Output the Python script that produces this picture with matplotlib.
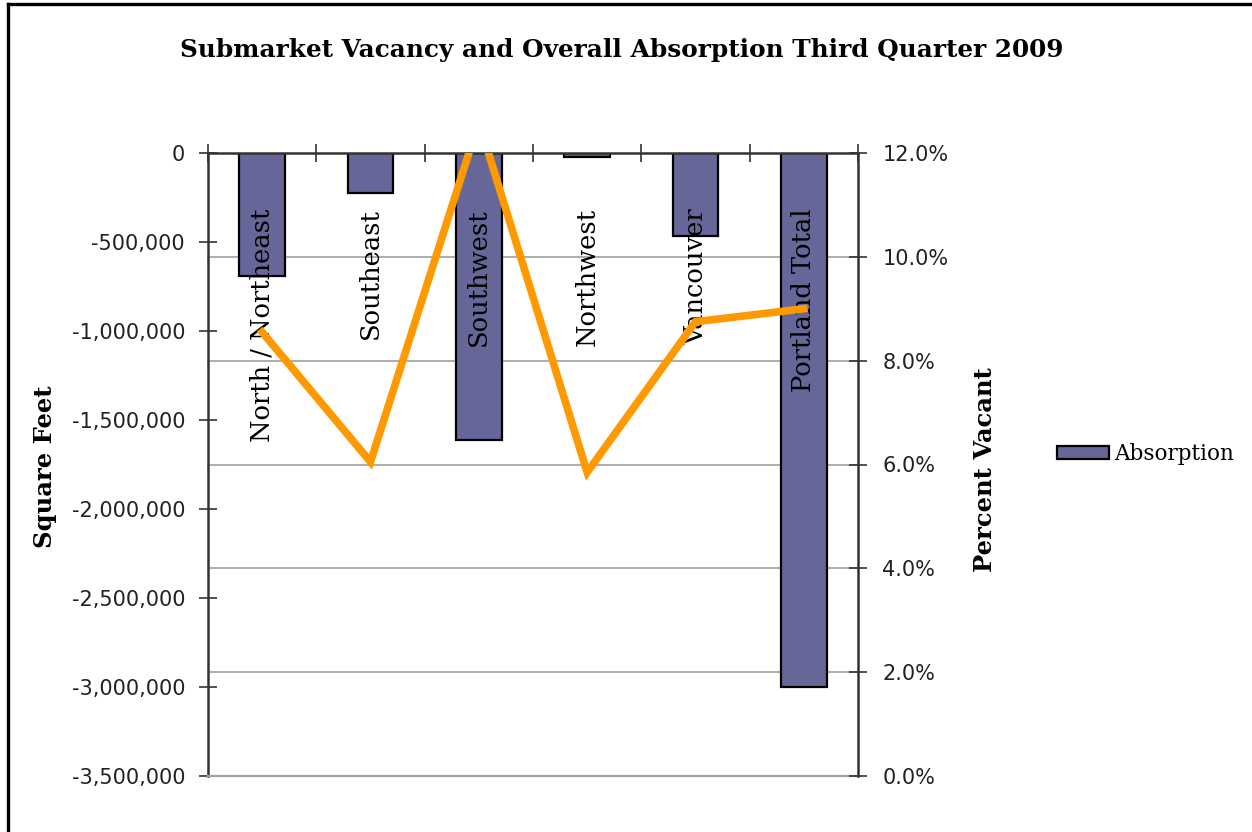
import matplotlib
matplotlib.use("Agg")
import matplotlib.pyplot as plt
from matplotlib.lines import Line2D
from matplotlib.patches import Patch
from matplotlib.ticker import FuncFormatter, FixedLocator

# Submarket data, third quarter 2009
categories = ["North / Northeast", "Southeast", "Southwest",
              "Northwest", "Vancouver", "Portland Total"]
absorption = [-690000, -225000, -1610000, -20000, -465000, -3000000]
vacancy_pct = [8.55, 6.05, 12.6, 5.85, 8.75, 9.0]

sqft_ticks = [0, -500000, -1000000, -1500000, -2000000, -2500000, -3000000, -3500000]
pct_ticks = [0, 2, 4, 6, 8, 10, 12]

W, H = 1252, 832
fig = plt.figure(figsize=(W / 100, H / 100), dpi=100)
fig.patch.set_facecolor("white")

ax = fig.add_axes([208 / W, 1 - 776 / H, (858 - 208) / W, (776 - 153) / H])
ax2 = ax.twinx()

serif = ["DejaVu Serif"]
sans = ["DejaVu Sans"]
dark = "#222222"
bar_color = "#666699"
line_color = "#FF9900"
grid_color = "#a0a0a0"

n = len(categories)
xs = list(range(n))

# horizontal gridlines follow the percent axis, drawn beneath the bars
for p in pct_ticks[:-1]:
    f = (p - pct_ticks[0]) / (pct_ticks[-1] - pct_ticks[0])
    ax.plot([0, 1], [f, f], transform=ax.transAxes, color=grid_color,
            lw=1.2, zorder=0.5, clip_on=False)

ax.bar(xs, absorption, width=0.42, color=bar_color, edgecolor="black",
       linewidth=1.6, zorder=2)

ax.set_xlim(-0.5, n - 0.5)
ax.set_ylim(sqft_ticks[-1], sqft_ticks[0])
ax.yaxis.set_major_locator(FixedLocator(sqft_ticks))
ax.yaxis.set_major_formatter(FuncFormatter(lambda v, _: f"{int(v):,}"))

# category names sit inside the plot, hanging from just under the axis line
for x, name in zip(xs, categories):
    ax.text(x, -310000, name, rotation=90, ha="center", va="top",
            fontsize=18.5, family=serif, color="black", zorder=3)

# category axis along the zero line at the top
ax.xaxis.tick_top()
ax.set_xticks([i - 0.5 for i in range(n + 1)])
ax.set_xticklabels([])
ax.tick_params(axis="x", direction="inout", length=13, width=1.2, color="#333333")
ax.tick_params(axis="y", direction="inout", length=13, width=1.2, color="#333333",
               labelsize=15, labelcolor=dark, pad=10)
for lbl in ax.get_yticklabels():
    lbl.set_family(sans)

for side in ["left", "top"]:
    ax.spines[side].set_color("#333333")
    ax.spines[side].set_linewidth(1.8)
ax.spines["right"].set_visible(False)
ax.spines["bottom"].set_color(grid_color)
ax.spines["bottom"].set_linewidth(1.6)

ax2.plot(xs, vacancy_pct, color=line_color, lw=5.5, solid_joinstyle="miter", zorder=4)
ax2.set_ylim(pct_ticks[0], pct_ticks[-1])
ax2.yaxis.set_major_locator(FixedLocator(pct_ticks))
ax2.yaxis.set_major_formatter(FuncFormatter(lambda v, _: f"{v:.1f}%"))
ax2.tick_params(axis="y", direction="inout", length=13, width=1.2, color="#333333",
                labelsize=15, labelcolor=dark, pad=11)
for lbl in ax2.get_yticklabels():
    lbl.set_family(sans)
for side in ["left", "top", "bottom"]:
    ax2.spines[side].set_visible(False)
ax2.spines["right"].set_color("#333333")
ax2.spines["right"].set_linewidth(1.8)

fig.text(622 / W, 1 - 50 / H,
         "Submarket Vacancy and Overall Absorption Third Quarter 2009",
         ha="center", va="center", fontsize=17.8, fontweight="bold", family=serif)
fig.text(45 / W, 1 - 467 / H, "Square Feet", rotation=90, ha="center", va="center",
         fontsize=17.5, fontweight="bold", family=serif)
fig.text(985 / W, 1 - 470 / H, "Percent Vacant", rotation=90, ha="center", va="center",
         fontsize=17.5, fontweight="bold", family=serif)

fig.legend(handles=[Patch(facecolor=bar_color, edgecolor="black", linewidth=1.6,
                          label="Absorption")],
           loc="center left", bbox_to_anchor=(1057 / W, 1 - 454 / H),
           frameon=False, handlelength=2.4, handleheight=0.6,
           handletextpad=0.25, borderpad=0, borderaxespad=0,
           prop={"family": serif, "size": 15.5})

# outer frame, running off the right and bottom edges
fig.add_artist(Line2D([8 / W, 8 / W], [0, 1 - 4 / H], transform=fig.transFigure,
                      color="black", lw=2.4))
fig.add_artist(Line2D([8 / W, 1], [1 - 4 / H, 1 - 4 / H], transform=fig.transFigure,
                      color="black", lw=2.4))

fig.savefig("out.png", dpi=100)
